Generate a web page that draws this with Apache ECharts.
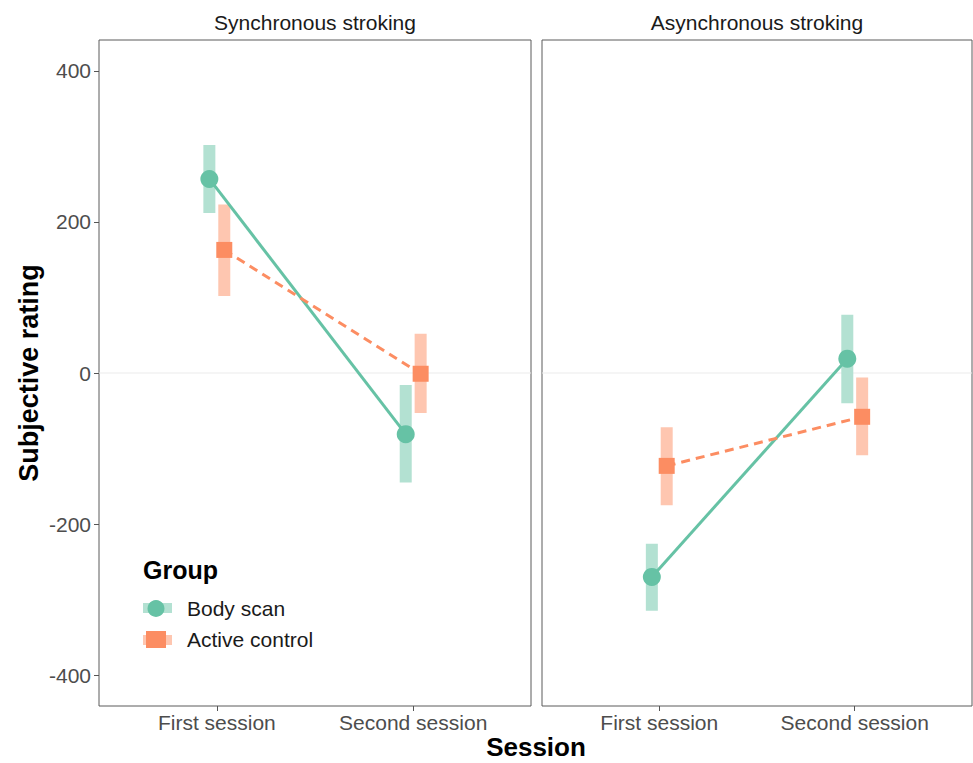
<!DOCTYPE html>
<html>
<head>
<meta charset="utf-8">
<script src="https://cdn.jsdelivr.net/npm/echarts@6/dist/echarts.min.js"></script>
<style>html,body{margin:0;padding:0;background:#fff;}#c{width:973px;height:763px;}</style>
</head>
<body>
<div id="c"></div>
<script>
const sessions = ['First session', 'Second session'];
const conditions = ['Synchronous stroking', 'Asynchronous stroking'];
const groups = ['Body scan', 'Active control'];
const yTicks = [-400, -200, 0, 200, 400];

// Synchronous stroking
const bodySyncMean = [257, -81];
const bodySyncLow = [212, -145];
const bodySyncHigh = [302, -16];
const activeSyncMean = [163, -1];
const activeSyncLow = [102, -53];
const activeSyncHigh = [223, 52];
// Asynchronous stroking
const bodyAsyncMean = [-270, 19];
const bodyAsyncLow = [-315, -40];
const bodyAsyncHigh = [-226, 77];
const activeAsyncMean = [-123, -58];
const activeAsyncLow = [-175, -109];
const activeAsyncHigh = [-72, -6];

const FONT = '"Liberation Sans", Arial, Helvetica, sans-serif';
const colors = {'Body scan': '#66c2a5', 'Active control': '#fc8d62'};
const lightColors = {'Body scan': '#b3e1d2', 'Active control': '#fec6b0'};
const dodge = {'Body scan': -0.038, 'Active control': 0.038};

const panels = [
  {body: [bodySyncMean, bodySyncLow, bodySyncHigh], active: [activeSyncMean, activeSyncLow, activeSyncHigh]},
  {body: [bodyAsyncMean, bodyAsyncLow, bodyAsyncHigh], active: [activeAsyncMean, activeAsyncLow, activeAsyncHigh]}
];

const series = [];
panels.forEach((p, gi) => {
  // zero reference line
  series.push({
    type: 'custom', xAxisIndex: gi, yAxisIndex: gi, z: 0, silent: true,
    data: [[1.5, 0]], encode: {x: 0, y: 1},
    renderItem: (params, api) => {
      const cs = params.coordSys;
      const y = api.coord([1.5, api.value(1)])[1];
      return {type: 'line', shape: {x1: cs.x, y1: y, x2: cs.x + cs.width, y2: y},
              style: {stroke: '#ebebeb', lineWidth: 1}};
    }
  });
  [['Body scan', p.body], ['Active control', p.active]].forEach(([g, arr]) => {
    const [mean, low, high] = arr;
    const pts = sessions.map((s, i) => [i + 1 + dodge[g], mean[i]]);
    const bars = sessions.map((s, i) => [i + 1 + dodge[g], low[i], high[i]]);
    series.push({
      name: g, type: 'custom', xAxisIndex: gi, yAxisIndex: gi, z: 1, silent: true,
      data: bars, encode: {x: 0, y: [1, 2]},
      renderItem: (params, api) => {
        const x = api.value(0);
        const top = api.coord([x, api.value(2)]);
        const bot = api.coord([x, api.value(1)]);
        return {type: 'rect', shape: {x: top[0] - 6, y: top[1], width: 12, height: bot[1] - top[1]},
                style: {fill: lightColors[g]}};
      }
    });
    series.push({
      name: g, type: 'line', xAxisIndex: gi, yAxisIndex: gi, z: 2, silent: true,
      data: pts, showSymbol: false, symbol: 'none',
      lineStyle: {color: colors[g], width: 3, type: g === 'Body scan' ? 'solid' : [9, 6]},
      itemStyle: {color: colors[g]}
    });
    series.push({
      name: g, type: 'scatter', xAxisIndex: gi, yAxisIndex: gi, z: 3, silent: true,
      data: pts, symbol: g === 'Body scan' ? 'circle' : 'rect',
      symbolSize: g === 'Body scan' ? 18 : 16,
      itemStyle: {color: colors[g], opacity: 1}
    });
  });
});

const xAxisBase = (gi) => ({
  type: 'value', gridIndex: gi, min: 0.4, max: 2.6,
  axisLine: {show: false, onZero: false},
  splitLine: {show: false},
  axisTick: {show: true, customValues: [1, 2], length: 5, lineStyle: {color: '#555'}},
  axisLabel: {customValues: [1, 2], formatter: v => sessions[Math.round(v) - 1],
              color: '#4d4d4d', fontSize: 21, fontFamily: FONT, margin: 6}
});
const yAxisBase = (gi) => ({
  type: 'value', gridIndex: gi, min: -441, max: 441,
  axisLine: {show: false, onZero: false},
  splitLine: {show: false},
  axisTick: {show: gi === 0, customValues: yTicks, length: 5, lineStyle: {color: '#555'}},
  axisLabel: {show: gi === 0, customValues: yTicks, color: '#4d4d4d', fontSize: 21, fontFamily: FONT, margin: 8}
});

const yAxes = [yAxisBase(0), yAxisBase(1)];
yAxes[0].name = 'Subjective rating';
yAxes[0].nameLocation = 'middle';
yAxes[0].nameRotate = 90;
yAxes[0].nameGap = 57;
yAxes[0].nameTextStyle = {fontSize: 27, fontWeight: 'bold', color: '#000', fontFamily: FONT};

const option = {
  backgroundColor: '#fff',
  animation: false,
  grid: [
    {left: 99, right: 442, top: 40, bottom: 57, show: true, borderColor: '#5a5a5a', borderWidth: 1, backgroundColor: 'transparent'},
    {left: 542, right: 1, top: 40, bottom: 57, show: true, borderColor: '#5a5a5a', borderWidth: 1, backgroundColor: 'transparent'}
  ],
  xAxis: [xAxisBase(0), xAxisBase(1)],
  yAxis: yAxes,
  legend: {
    orient: 'vertical', left: 141, top: 593, itemWidth: 20, itemHeight: 17, itemGap: 10,
    selectedMode: false,
    textStyle: {fontSize: 21, color: '#1a1a1a', fontFamily: FONT, padding: [0, 0, 0, 16]},
    data: groups.map(g => ({name: g, icon: g === 'Body scan' ? 'circle' : 'rect',
                            itemStyle: {color: colors[g], opacity: 1}}))
  },
  graphic: [
    {type: 'text', x: 315, y: 22, style: {text: conditions[0], font: '21px ' + FONT, fill: '#1a1a1a', textAlign: 'center', textVerticalAlign: 'middle'}},
    {type: 'text', x: 757, y: 22, style: {text: conditions[1], font: '21px ' + FONT, fill: '#1a1a1a', textAlign: 'center', textVerticalAlign: 'middle'}},
    {type: 'text', x: 536, y: 747, style: {text: 'Session', font: 'bold 26px ' + FONT, fill: '#000', textAlign: 'center', textVerticalAlign: 'middle'}},
    {type: 'text', x: 143, y: 570, style: {text: 'Group', font: 'bold 25px ' + FONT, fill: '#000', textAlign: 'left', textVerticalAlign: 'middle'}},
    {type: 'rect', z: -1, shape: {x: 143, y: 603, width: 29, height: 10}, style: {fill: lightColors['Body scan']}},
    {type: 'rect', z: -1, shape: {x: 143, y: 635, width: 29, height: 10}, style: {fill: lightColors['Active control']}}
  ],
  series: series
};

const chart = echarts.init(document.getElementById('c'), null, {renderer: 'svg'});
chart.setOption(option);
</script>
</body>
</html>
